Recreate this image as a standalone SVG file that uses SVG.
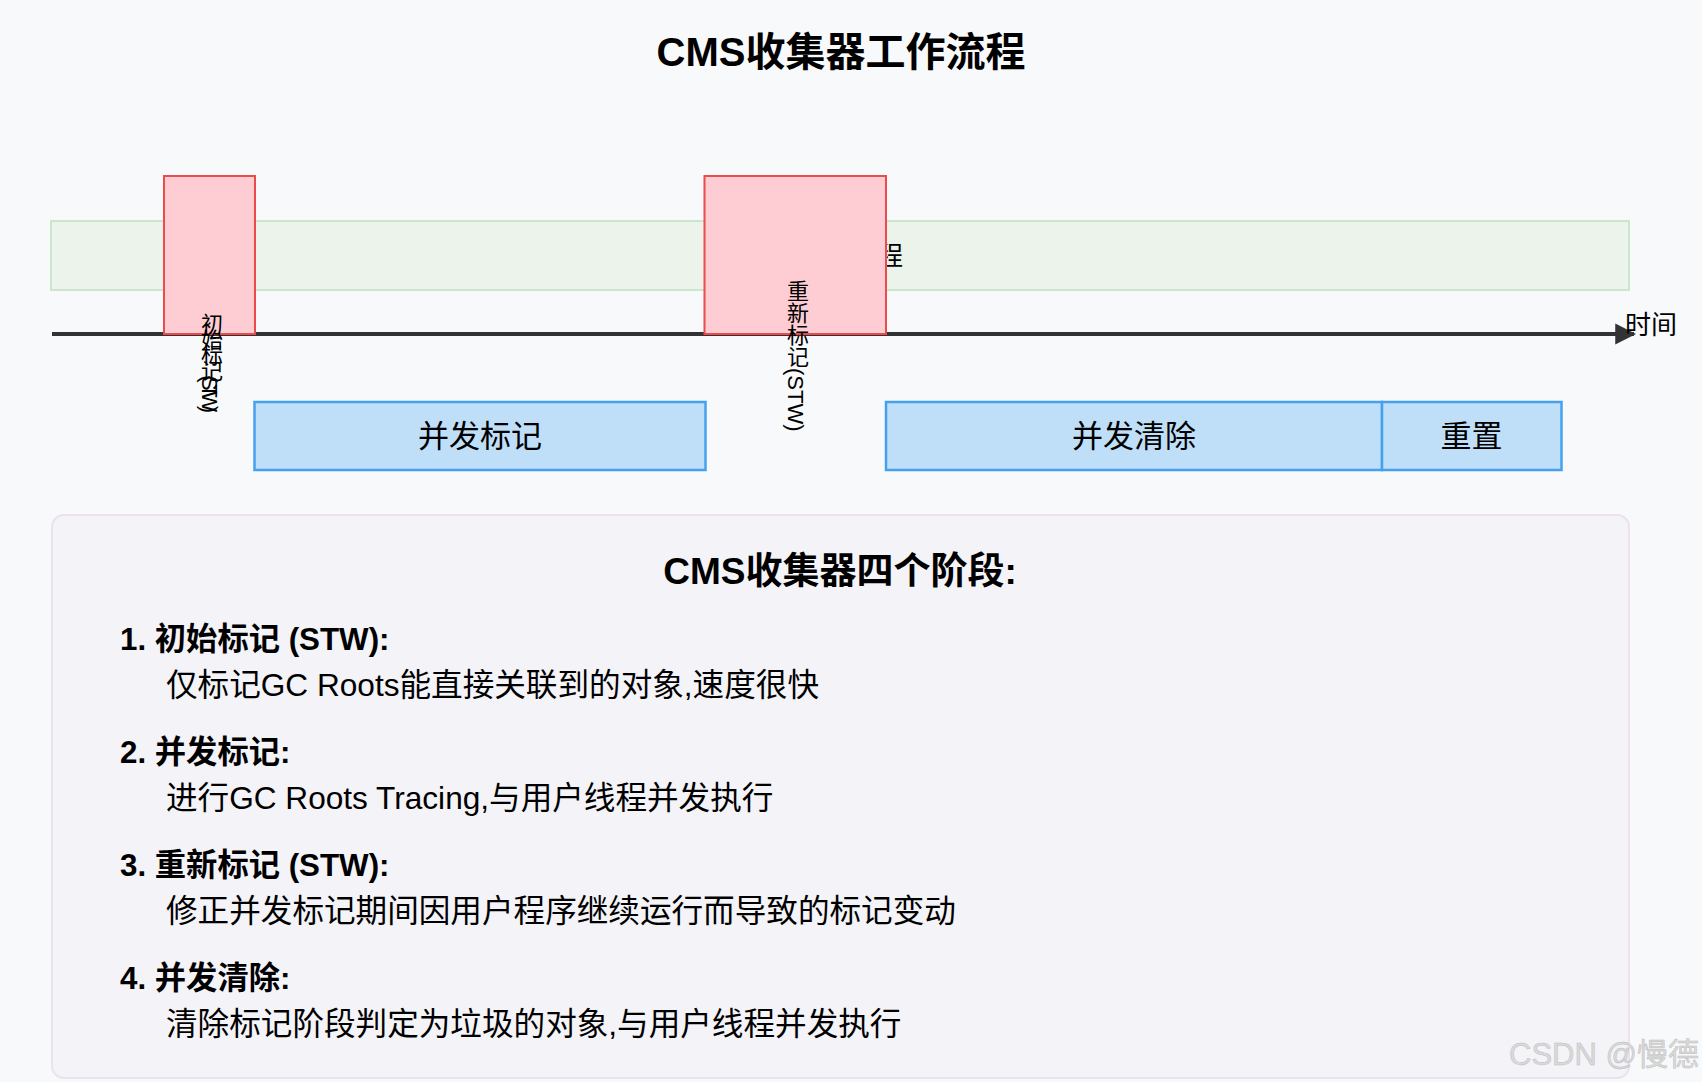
<svg xmlns="http://www.w3.org/2000/svg" width="1702" height="1082" viewBox="0 0 1702 1082">
  <defs>
    <style>
      .t { font-family: "Liberation Sans", Arial, "Noto Sans CJK SC", sans-serif; fill: #000; }
      .title { font-size: 40px; font-weight: bold; text-anchor: middle; }
      .sub { font-size: 37px; font-weight: bold; text-anchor: middle; }
      .lbl { font-size: 31px; text-anchor: middle; dominant-baseline: central; }
      .vert { font-size: 22px; writing-mode: tb; }
      .head { font-size: 31.3px; font-weight: bold; }
      .desc { font-size: 31.6px; }
      .wm { font-size: 31px; fill: #dadada; stroke: #bdbdbd; stroke-width: 0.5px; }
      .stw { fill: #fdcdd3; stroke: #ec4b4b; stroke-width: 2; }
      .conc { fill: #bfdff9; stroke: #45a0f0; stroke-width: 2.5; }
    </style>
    <marker id="arrow" viewBox="0 0 10 10" refX="9" refY="5" markerWidth="5.2" markerHeight="5.8" markerUnits="strokeWidth" orient="auto">
      <path d="M0,0 L10,5 L0,10 Z" fill="#333"/>
    </marker>
  </defs>

  <rect x="0" y="0" width="1702" height="1082" fill="#f8f9fa"/>

  <text id="title" class="t title" x="841" y="66">CMS收集器工作流程</text>

  <g id="user-thread">
    <rect x="51" y="221" width="1578" height="69" fill="#ebf3ea" stroke="#cde5cd" stroke-width="2"/>
    <text class="t" x="851" y="256" font-size="26" text-anchor="middle" dominant-baseline="central">用户线程</text>
  </g>

  <g id="connectors">
    <line x1="52" y1="334" x2="1634" y2="334" stroke="#333" stroke-width="4" marker-end="url(#arrow)"/>
  </g>

  <g id="time-label">
    <text class="t" x="1625" y="334" font-size="26">时间</text>
  </g>

  <g id="initial-mark">
    <rect class="stw" x="164" y="176" width="91" height="158"/>
    <text class="t vert" x="209.5" y="313" textLength="100" lengthAdjust="spacing">初始标记(STW)</text>
  </g>

  <g id="remark">
    <rect class="stw" x="704.5" y="176" width="181.5" height="158"/>
    <text class="t vert" x="795.5" y="280">重新标记(STW)</text>
  </g>

  <g id="concurrent-mark">
    <rect class="conc" x="254.5" y="402" width="451" height="68"/>
    <text class="t lbl" x="480" y="436">并发标记</text>
  </g>

  <g id="concurrent-sweep">
    <rect class="conc" x="886" y="402" width="496" height="68"/>
    <text class="t lbl" x="1134" y="436">并发清除</text>
  </g>

  <g id="reset">
    <rect class="conc" x="1382" y="402" width="179.5" height="68"/>
    <text class="t lbl" x="1471.5" y="436">重置</text>
  </g>

  <g id="phases-panel">
    <rect x="52" y="515" width="1577" height="563" rx="12" ry="12" fill="#f4f3f8" stroke="#ece0f1" stroke-width="2"/>
    <text class="t sub" x="840" y="584">CMS收集器四个阶段:</text>
    <text class="t head" x="120" y="650">1. 初始标记 (STW):</text>
    <text class="t desc" x="166" y="696">仅标记GC Roots能直接关联到的对象,速度很快</text>
    <text class="t head" x="120" y="763">2. 并发标记:</text>
    <text class="t desc" x="166" y="809">进行GC Roots Tracing,与用户线程并发执行</text>
    <text class="t head" x="120" y="876">3. 重新标记 (STW):</text>
    <text class="t desc" x="166" y="922">修正并发标记期间因用户程序继续运行而导致的标记变动</text>
    <text class="t head" x="120" y="989">4. 并发清除:</text>
    <text class="t desc" x="166" y="1035">清除标记阶段判定为垃圾的对象,与用户线程并发执行</text>
  </g>

  <text id="watermark" class="t wm" x="1509" y="1065">CSDN @慢德</text>
</svg>
